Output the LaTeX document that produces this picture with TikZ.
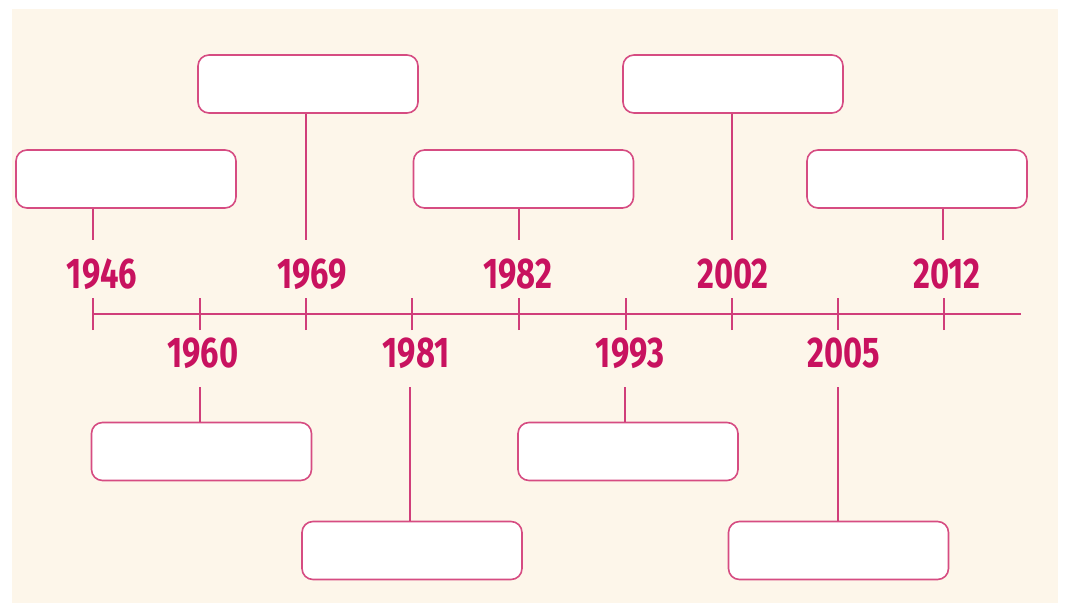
\documentclass[tikz,border=0pt]{standalone}
\usepackage{fontspec}
\newfontfamily\yearfont{Fira Sans}[FakeStretch=0.76]
\definecolor{bgcol}{RGB}{253,246,234}
\definecolor{yearcol}{RGB}{200,18,95}
\definecolor{linecol}{RGB}{208,62,122}
\definecolor{boxcol}{RGB}{214,76,130}
\begin{document}
\begin{tikzpicture}[x=1pt,y=-1pt,
  evbox/.style={draw=boxcol, line width=1.6pt, fill=white, rounded corners=11pt,
    minimum width=220pt, minimum height=58pt, inner sep=0pt},
  yearlbl/.style={text=yearcol, font=\yearfont\bfseries\fontsize{43}{43}\selectfont,
    inner sep=0pt, anchor=base},
  axisline/.style={draw=linecol, line width=2pt},
  ticklin/.style={draw=linecol, line width=1.5pt},
  conn/.style={draw=linecol, line width=1.5pt}]
\useasboundingbox (0,0) rectangle (1067,607);
\fill[bgcol] (12,9) rectangle (1058,603);

% tick coordinates on the axis
\foreach \n/\x in {a/93,b/200,c/306,d/412,e/519,f/626,g/732,h/838,i/944}{
  \coordinate (t\n) at (\x,314);
}
\coordinate (axL) at (93,314);
\coordinate (axR) at (1021,314);
\draw[axisline] (axL) -- (axR);
\foreach \n in {a,b,c,d,e,f,g,h,i}{
  \draw[ticklin] ([yshift=-16pt]t\n) -- ([yshift=16pt]t\n);
}

% year labels
\node[yearlbl] (y1946) at (102,288) {1946};
\node[yearlbl] (y1969) at (312,288) {1969};
\node[yearlbl] (y1982) at (518,288) {1982};
\node[yearlbl] (y2002) at (733,288) {2002};
\node[yearlbl] (y2012) at (947,288) {2012};
\node[yearlbl] (y1960) at (203,367) {1960};
\node[yearlbl] (y1981) at (416,367) {1981};
\node[yearlbl] (y1993) at (630,367) {1993};
\node[yearlbl] (y2005) at (844,367) {2005};

% boxes
\node[evbox] (b1946) at (126,179) {};
\node[evbox] (b1969) at (308,84) {};
\node[evbox] (b1982) at (523.5,179) {};
\node[evbox] (b2002) at (733,84) {};
\node[evbox] (b2012) at (917,179) {};
\node[evbox] (b1960) at (201.5,451.5) {};
\node[evbox] (b1981) at (412,550.5) {};
\node[evbox] (b1993) at (628,451.5) {};
\node[evbox] (b2005) at (838.5,550.5) {};

% connector ends
\coordinate (c1946) at (93,240);
\coordinate (c1969) at (306,240);
\coordinate (c1982) at (519,240);
\coordinate (c2002) at (732,240);
\coordinate (c2012) at (943,240);
\coordinate (c1960) at (200,387);
\coordinate (c1981) at (410,387);
\coordinate (c1993) at (625,387);
\coordinate (c2005) at (838,387);

\draw[conn] (b1946.south -| c1946) -- (c1946);
\draw[conn] (b1969.south -| c1969) -- (c1969);
\draw[conn] (b1982.south -| c1982) -- (c1982);
\draw[conn] (b2002.south -| c2002) -- (c2002);
\draw[conn] (b2012.south -| c2012) -- (c2012);
\draw[conn] (c1960) -- (b1960.north -| c1960);
\draw[conn] (c1981) -- (b1981.north -| c1981);
\draw[conn] (c1993) -- (b1993.north -| c1993);
\draw[conn] (c2005) -- (b2005.north -| c2005);
\end{tikzpicture}
\end{document}
